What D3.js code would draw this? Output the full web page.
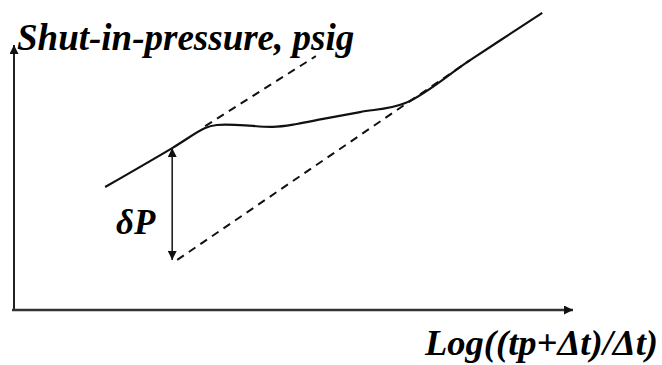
<!DOCTYPE html>
<html>
<head>
<meta charset="utf-8">
<script src="https://cdn.jsdelivr.net/npm/d3@7"></script>
<style>
  body { margin: 0; background: #fff; }
</style>
</head>
<body>
<script>
// Horner-type buildup plot sketch (no real units, just shape)
var width = 662,
    height = 365

// measured shut-in pressure curve (arbitrary units)
var curveX = [16.3, 28.3, 34.2, 36.3, 40.4, 46.3, 50.6, 55.3, 61.9, 70.0, 81.6, 94.5]
var curveY = [46.4, 61.1, 68.7, 69.8, 69.8, 69.1, 70.2, 72.1, 74.7, 78.1, 94.3, 112.1]

// extrapolated straight lines (dashed)
var upperX = [34.2, 54.0]
var upperY = [69.4, 95.8]
var lowerX = [29.2, 81.6]
var lowerY = [18.9, 94.3]

// delta P arrow
var deltaX = 28.3
var deltaY = [61.1, 18.9]

var yLabel = "Shut-in-pressure, psig"
var xLabel = "Log((tp+\u0394t)/\u0394t)"
var deltaLabel = "\u03b4P"

var x = d3.scaleLinear().domain([0, 100]).range([14, 573])
var y = d3.scaleLinear().domain([0, 100]).range([310, 45])

var svg = d3.select("body")
  .append("svg")
    .attr("width", width)
    .attr("height", height)

var defs = svg.append("defs")
function addMarker(id, w, l) {
  defs.append("marker")
    .attr("id", id)
    .attr("markerUnits", "userSpaceOnUse")
    .attr("viewBox", "0 -5 10 10")
    .attr("refX", 10)
    .attr("refY", 0)
    .attr("markerWidth", l)
    .attr("markerHeight", w)
    .attr("orient", "auto-start-reverse")
    .append("path")
      .attr("d", "M0,-5L10,0L0,5Z")
      .attr("fill", "#111")
}
addMarker("axisHead", 9, 11)
addMarker("smallHead", 9, 10)

// axes
svg.append("line")
  .attr("x1", x(0)).attr("y1", y(0) + 1)
  .attr("x2", x(0)).attr("y2", y(100))
  .attr("stroke", "#222").attr("stroke-width", 2)
  .attr("marker-end", "url(#axisHead)")
svg.append("line")
  .attr("x1", x(0) - 2).attr("y1", y(0))
  .attr("x2", x(100)).attr("y2", y(0))
  .attr("stroke", "#333").attr("stroke-width", 2.5)
  .attr("marker-end", "url(#axisHead)")

// dashed extrapolations
var dashLine = d3.line().x(function(d) { return x(d[0]) }).y(function(d) { return y(d[1]) })
svg.append("path")
  .attr("d", dashLine(d3.zip(upperX, upperY)))
  .attr("fill", "none").attr("stroke", "#111").attr("stroke-width", 2)
  .attr("stroke-dasharray", "8,6")
svg.append("path")
  .attr("d", dashLine(d3.zip(lowerX, lowerY)))
  .attr("fill", "none").attr("stroke", "#111").attr("stroke-width", 2)
  .attr("stroke-dasharray", "8,6")

// main curve
var curveLine = d3.line()
  .x(function(d) { return x(d[0]) })
  .y(function(d) { return y(d[1]) })
  .curve(d3.curveCatmullRom.alpha(0.5))
svg.append("path")
  .attr("d", curveLine(d3.zip(curveX, curveY)))
  .attr("fill", "none").attr("stroke", "#111").attr("stroke-width", 2.2)

// delta P double arrow
svg.append("line")
  .attr("x1", x(deltaX)).attr("y1", y(deltaY[0]))
  .attr("x2", x(deltaX)).attr("y2", y(deltaY[1]))
  .attr("stroke", "#222").attr("stroke-width", 1.6)
  .attr("marker-start", "url(#smallHead)")
  .attr("marker-end", "url(#smallHead)")

// labels
function label(txt, px, py, size, len) {
  var t = svg.append("text")
    .attr("x", px).attr("y", py)
    .style("font-family", '"Liberation Serif"')
    .style("font-weight", "bold")
    .style("font-style", "italic")
    .style("font-size", size + "px")
    .text(txt)
  if (len) t.attr("textLength", len).attr("lengthAdjust", "spacingAndGlyphs")
}
label(yLabel, 17, 50, 37)
label(xLabel, 425, 355, 35, 233)
label(deltaLabel, 116, 234, 35)
</script>
</body>
</html>
